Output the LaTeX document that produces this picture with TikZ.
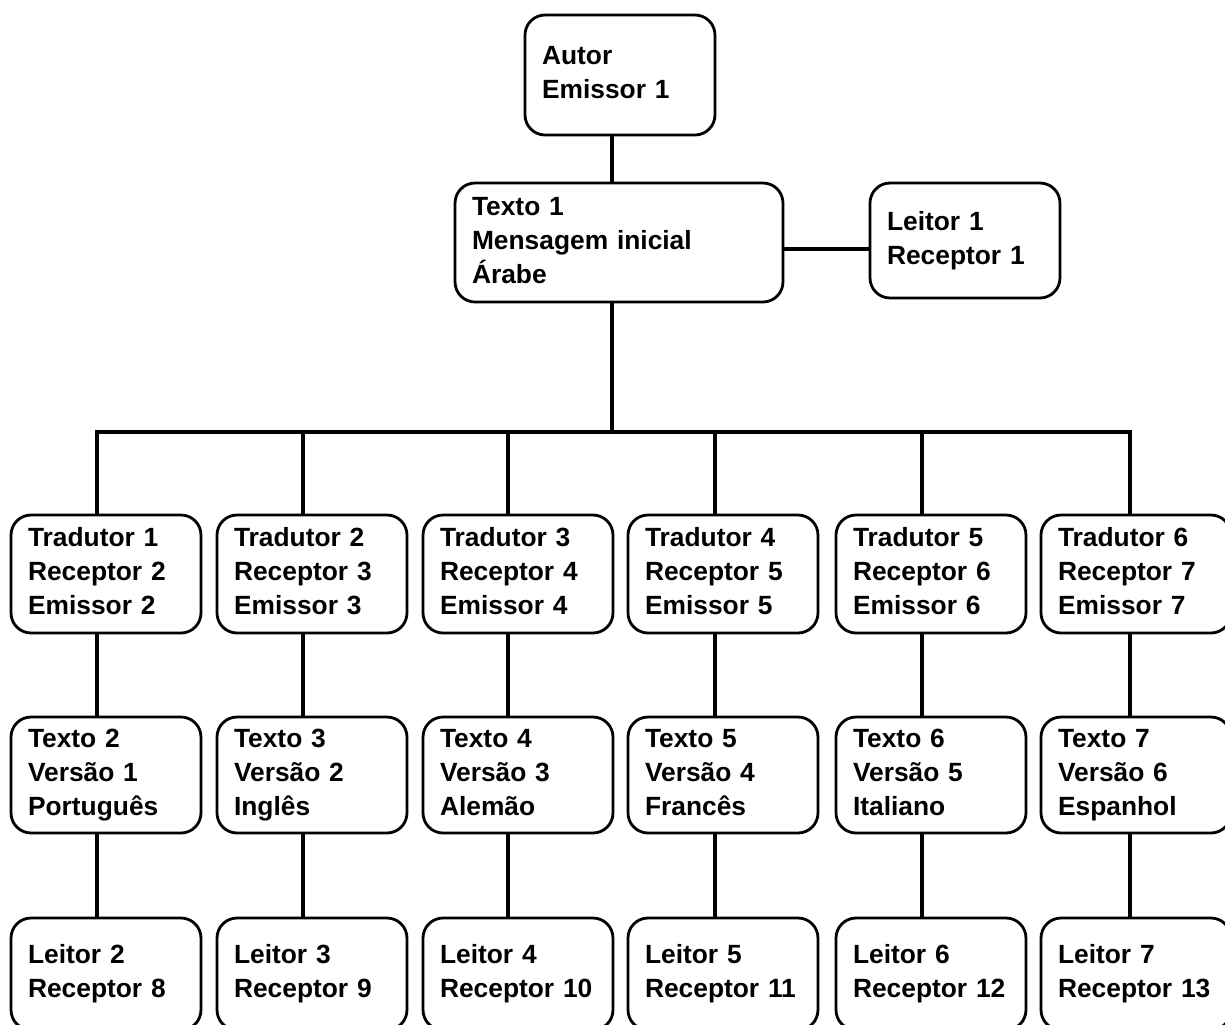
\documentclass[tikz,border=0pt]{standalone}
\usepackage{fontspec}
\setmainfont{Liberation Sans}
\begin{document}
\begin{tikzpicture}[x=0.02cm,y=-0.02cm,
  box/.style={draw, line width=1.6pt, rounded corners=0.4cm, inner xsep=0.34cm, inner ysep=0pt,
    text width=3.12cm, align=left, font=\bfseries\fontsize{15}{19.3}\selectfont,
    execute at begin node={\strut}, execute at end node={\strut}},
  smallbox/.style={box, minimum height=2.36cm},
  wide/.style={box, text width=5.88cm, minimum height=2.38cm},
  link/.style={line width=2pt}]
\useasboundingbox (0,0) rectangle (1225,1025);

% top
\node[smallbox, minimum height=2.4cm] (autor) at (620,75) {Autor\\Emissor 1};
\node[wide] (t1) at (619,242.5) {Texto 1\\Mensagem inicial\\Árabe};
\node[smallbox, minimum height=2.3cm] (l1) at (965,240.5) {Leitor 1\\Receptor 1};

\coordinate (cx) at (612,0);
\coordinate (ly) at (0,249);
\draw[link] (autor.south -| cx) -- (t1.north -| cx);
\draw[link] (t1.east |- ly) -- (l1.west |- ly);

% columns
\foreach \i/\bx/\cxx/\tra/\rec/\emi/\txt/\ver/\lng/\lei/\recb in {
  1/106/97/Tradutor 1/Receptor 2/Emissor 2/Texto 2/Versão 1/Português/Leitor 2/Receptor 8,
  2/312/303/Tradutor 2/Receptor 3/Emissor 3/Texto 3/Versão 2/Inglês/Leitor 3/Receptor 9,
  3/518/508/Tradutor 3/Receptor 4/Emissor 4/Texto 4/Versão 3/Alemão/Leitor 4/Receptor 10,
  4/723/715/Tradutor 4/Receptor 5/Emissor 5/Texto 5/Versão 4/Francês/Leitor 5/Receptor 11,
  5/931/922/Tradutor 5/Receptor 6/Emissor 6/Texto 6/Versão 5/Italiano/Leitor 6/Receptor 12,
  6/1136/1130/Tradutor 6/Receptor 7/Emissor 7/Texto 7/Versão 6/Espanhol/Leitor 7/Receptor 13}{
  \node[smallbox] (tr\i) at (\bx,574) {\tra\\\rec\\\emi};
  \node[smallbox, minimum height=2.32cm] (tx\i) at (\bx,775) {\txt\\\ver\\\lng};
  \node[smallbox, minimum height=2.24cm] (le\i) at (\bx,974) {\lei\\\recb};
  \coordinate (b\i) at (\cxx,432);
  \draw[link] (b\i) -- (tr\i.north -| b\i);
  \draw[link] (tr\i.south -| b\i) -- (tx\i.north -| b\i);
  \draw[link] (tx\i.south -| b\i) -- (le\i.north -| b\i);
}
\coordinate (bm) at (612,432);
\draw[link] (t1.south -| cx) -- (bm);
\draw[link, line cap=rect] (b1) -- (b6);
\end{tikzpicture}
\end{document}
